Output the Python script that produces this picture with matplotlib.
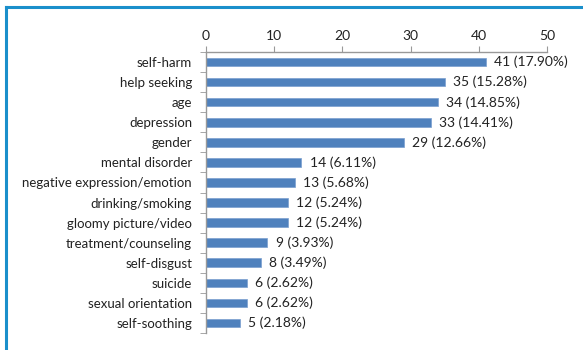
import matplotlib
matplotlib.use("Agg")
import matplotlib.pyplot as plt
import numpy as np

categories = ["self-harm", "help seeking", "age", "depression", "gender",
              "mental disorder", "negative expression/emotion", "drinking/smoking",
              "gloomy picture/video", "treatment/counseling", "self-disgust",
              "suicide", "sexual orientation", "self-soothing"]
counts = [41, 35, 34, 33, 29, 14, 13, 12, 12, 9, 8, 6, 6, 5]
percents = ["17.90%", "15.28%", "14.85%", "14.41%", "12.66%", "6.11%", "5.68%",
            "5.24%", "5.24%", "3.93%", "3.49%", "2.62%", "2.62%", "2.18%"]
xticks = [0, 10, 20, 30, 40, 50]

plt.rcParams['font.family'] = ['Lato', 'DejaVu Sans']

fig = plt.figure(figsize=(5.83, 3.5), dpi=100)
fig.patch.set_facecolor("white")

# frame lines along the top and left edges
fig.add_artist(plt.Line2D([0.0105, 1.0], [0.98, 0.98], color="#1a8fcb", lw=2.2,
                          transform=fig.transFigure))
fig.add_artist(plt.Line2D([0.0105, 0.0105], [0.0, 0.98], color="#1a8fcb", lw=2.2,
                          transform=fig.transFigure))

ax = fig.add_axes([0.3533, 0.049, 0.585, 0.802])
y = np.arange(len(categories))
ax.barh(y, counts, height=0.42, color="#4f81bd", edgecolor="#7a9fcf", linewidth=0.5)
ax.set_xlim(0, 50)
ax.set_ylim(len(categories) - 0.5, -0.5)

ax.xaxis.set_ticks_position("top")
ax.set_xticks(xticks)
ax.set_xticklabels([str(t) for t in xticks], fontsize=10, color="#222222")
ax.tick_params(axis="x", direction="out", length=4, color="#999999", pad=3)

ax.set_yticks(np.arange(len(categories) + 1) - 0.5, minor=True)
ax.set_yticks(y)
ax.set_yticklabels(categories, fontsize=9.5, color="#222222")
ax.tick_params(axis="y", which="major", length=0, pad=10)
ax.tick_params(axis="y", which="minor", direction="out", length=4, color="#999999")

for side in ["right", "bottom"]:
    ax.spines[side].set_visible(False)
for side in ["top", "left"]:
    ax.spines[side].set_color("#999999")
    ax.spines[side].set_linewidth(1.0)

for yi, c, p in zip(y, counts, percents):
    ax.annotate(f"{c} ({p})", (c, yi), xytext=(6, 0), textcoords="offset points",
                va="center", ha="left", fontsize=10, color="#222222")

fig.savefig("out.png", dpi=100)
